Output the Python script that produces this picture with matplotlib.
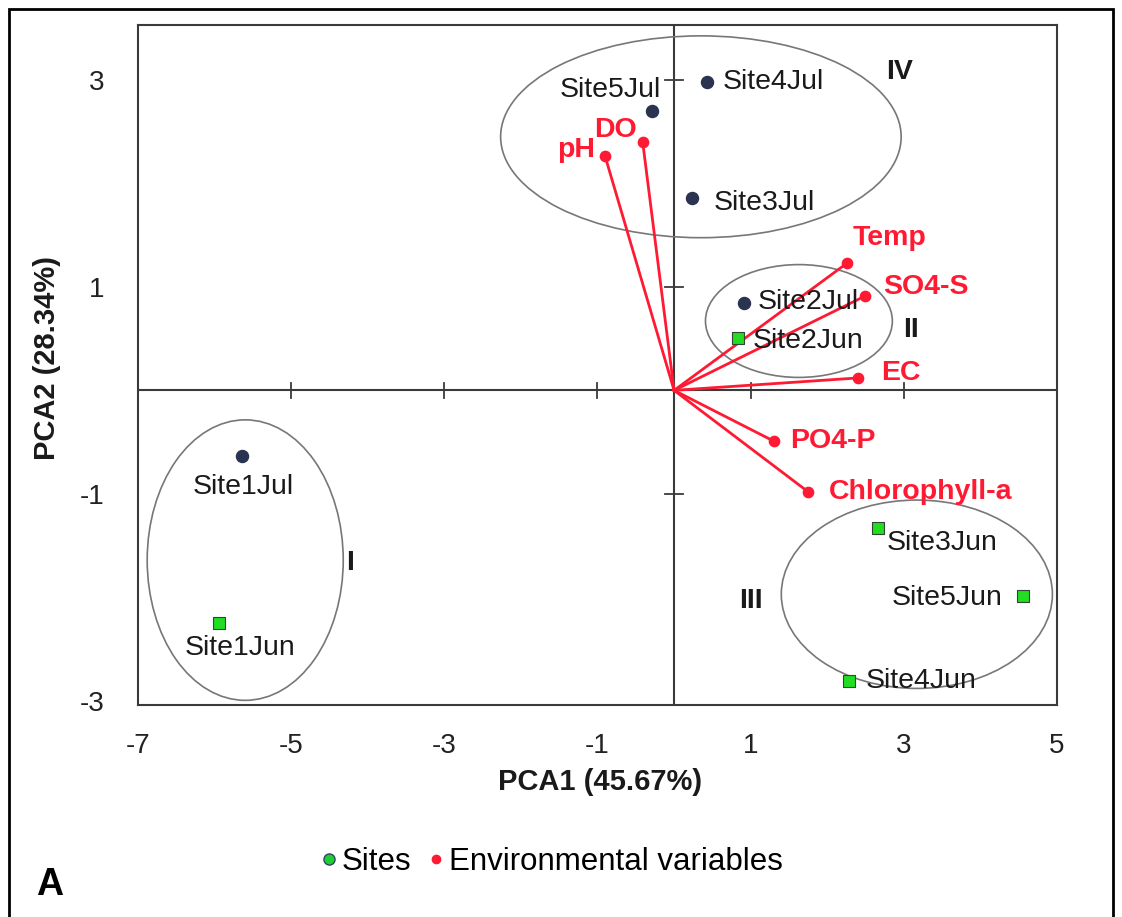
import numpy as np
import matplotlib
matplotlib.use('Agg')
from matplotlib import pyplot as plt
from matplotlib.patches import Ellipse, Rectangle
from matplotlib.lines import Line2D

plt.rcParams['font.family'] = ['Liberation Sans', 'DejaVu Sans']
plt.rcParams['axes.unicode_minus'] = False

# site scores (PCA1, PCA2)
jul_names = ['Site1Jul', 'Site2Jul', 'Site3Jul', 'Site4Jul', 'Site5Jul']
jul_x = [-5.64, 0.91, 0.23, 0.43, -0.29]
jul_y = [-0.63, 0.84, 1.86, 2.98, 2.70]

jun_names = ['Site1Jun', 'Site2Jun', 'Site3Jun', 'Site4Jun', 'Site5Jun']
jun_x = [-5.94, 0.83, 2.66, 2.29, 4.55]
jun_y = [-2.25, 0.51, -1.33, -2.81, -1.99]

# environmental variable loadings
env_names = ['pH', 'DO', 'Temp', 'SO4-S', 'EC', 'PO4-P', 'Chlorophyll-a']
env_x = [-0.90, -0.41, 2.26, 2.49, 2.40, 1.30, 1.75]
env_y = [2.26, 2.40, 1.23, 0.91, 0.12, -0.49, -0.98]

# groups: name, centre x, centre y, width, height
groups = [('I', -5.60, -1.64, 2.56, 2.71),
          ('II', 1.63, 0.67, 2.44, 1.09),
          ('III', 3.17, -1.97, 3.54, 1.82),
          ('IV', 0.35, 2.45, 5.23, 1.95)]

xticks = [-7, -5, -3, -1, 1, 3, 5]
yticks = [-3, -1, 1, 3]

fig = plt.figure(figsize=(11.22, 9.17), dpi=100)
ax = fig.add_axes([138/1122, 1-705/917, (1057-138)/1122, (705-25)/917])
ax.set_xlim(-7, 5)
ax.set_ylim(-3.04, 3.53)

for s in ax.spines.values():
    s.set_color('#3a3a3a')
    s.set_linewidth(1.5)

ax.set_xticks(xticks)
ax.set_yticks(yticks)
ax.tick_params(length=0, labelsize=20, colors='#222222')
ax.tick_params(axis='x', pad=20)
ax.tick_params(axis='y', pad=24)

# centre axes and their ticks
ax.axhline(0, color='#3a3a3a', lw=1.5, zorder=1)
ax.axvline(0, color='#3a3a3a', lw=1.5, zorder=1)
for t in xticks[1:-1]:
    ax.plot([t, t], [-0.07, 0.07], color='#3a3a3a', lw=1.3, zorder=1)
for t in yticks[1:]:
    ax.plot([-0.12, 0.12], [t, t], color='#3a3a3a', lw=1.3, zorder=1)

# group ellipses
for name, cx, cy, w, h in groups:
    ax.add_patch(Ellipse((cx, cy), w, h, fill=False, edgecolor='#777777', lw=1.2, zorder=2))

# environmental vectors
for ex, ey in zip(env_x, env_y):
    ax.plot([0, ex], [0, ey], color='#ff1a33', lw=2, zorder=3)
ax.scatter(env_x, env_y, s=55, color='#ff1a33', zorder=4)

# sites
ax.scatter(jul_x, jul_y, s=75, color='#2a3350', zorder=5)
ax.scatter(jun_x, jun_y, s=75, marker='s', color='#22dd22', edgecolor='#334433', lw=0.8, zorder=5)

fs = 20.5
site_lbl = {'Site1Jul': (-5.63, -0.93, 'center'), 'Site2Jul': (1.09, 0.85, 'left'),
            'Site3Jul': (0.52, 1.81, 'left'), 'Site4Jul': (0.64, 2.98, 'left'),
            'Site5Jul': (-0.17, 2.90, 'right'), 'Site1Jun': (-5.67, -2.49, 'center'),
            'Site2Jun': (1.03, 0.48, 'left'), 'Site3Jun': (2.77, -1.47, 'left'),
            'Site4Jun': (2.50, -2.81, 'left'), 'Site5Jun': (4.29, -2.01, 'right')}
for n, (tx, ty, ha) in site_lbl.items():
    ax.text(tx, ty, n, fontsize=fs, ha=ha, va='center', color='#1a1a1a', zorder=6)

env_lbl = {'pH': (-1.03, 2.32, 'right'), 'DO': (-0.49, 2.52, 'right'),
           'Temp': (2.33, 1.47, 'left'), 'SO4-S': (2.73, 1.00, 'left'),
           'EC': (2.71, 0.17, 'left'), 'PO4-P': (1.51, -0.49, 'left'),
           'Chlorophyll-a': (2.02, -0.98, 'left')}
for n, (tx, ty, ha) in env_lbl.items():
    ax.text(tx, ty, n, fontsize=fs, fontweight='bold', ha=ha, va='center', color='#ff1a33', zorder=6)

roman_pos = {'I': (-4.23, -1.67), 'II': (3.10, 0.58), 'III': (1.00, -2.04), 'IV': (2.95, 3.08)}
for n, (tx, ty) in roman_pos.items():
    ax.text(tx, ty, n, fontsize=fs, fontweight='bold', ha='center', va='center', color='#1a1a1a')

fig.text(600/1122, 1-782/917, 'PCA1 (45.67%)', fontsize=21, fontweight='bold',
         ha='center', va='center', color='#1a1a1a')
fig.text(47/1122, 1-358/917, 'PCA2 (28.34%)', fontsize=21, fontweight='bold',
         ha='center', va='center', rotation=90, color='#1a1a1a')

handles = [Line2D([], [], marker='o', ls='', color='#22cc33', markeredgecolor='#334466', markersize=8),
           Line2D([], [], marker='o', ls='', color='#ff1a33', markersize=6)]
fig.legend(handles, ['Sites', 'Environmental variables'], loc='center',
           bbox_to_anchor=(548/1122, 1-862/917), ncol=2, frameon=False, fontsize=22.5,
           handletextpad=-0.1, columnspacing=0.3, handlelength=1.0)

fig.text(50/1122, 1-885/917, 'A', fontsize=27, fontweight='bold', ha='center', va='center')

fig.patches.append(Rectangle((9/1122, -0.01), 1-18/1122, 1-9/917+0.01, transform=fig.transFigure,
                             fill=False, edgecolor='black', lw=2))

fig.savefig('out.png', dpi=100)
